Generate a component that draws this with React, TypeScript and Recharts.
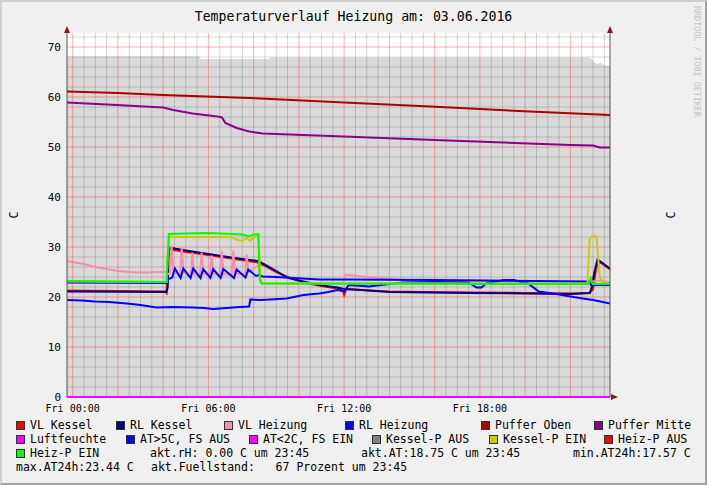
import React from "react";
import { ComposedChart, Line, Area, XAxis, YAxis, CartesianGrid, ReferenceLine } from "recharts";

type Pair = [number, number];

// hours since Fri 00:00 -> value in C
const xTicks = [0, 6, 12, 18];
const yTicks = [0, 10, 20, 30, 40, 50, 60, 70];

const fuellstand: Pair[] = [
  [-0.25, 68.1], [5.6, 68.1], [5.65, 67.6], [8.7, 67.6], [8.75, 67.9], [22.85, 67.9],
  [22.95, 67.5], [23.05, 66.9], [23.2, 66.6], [23.35, 66.9], [23.45, 66.4], [23.75, 66.2],
];

const vlKessel: Pair[] = [
  [-0.25, 21.3], [2, 21.2], [4.1, 21.1], [4.15, 20.8], [4.22, 29.6], [5, 29.0], [6, 28.4],
  [7, 27.7], [8.2, 26.9], [8.6, 26.0], [9.0, 25.0], [9.5, 24.0], [10.2, 22.9], [11.0, 22.2],
  [11.7, 21.7], [11.95, 21.2], [12.0, 20.4], [12.1, 21.6], [12.5, 21.5], [13.1, 21.3], [14, 21.1],
  [15.5, 21.0], [17.6, 20.9], [20, 20.8], [22, 20.7], [22.85, 20.8], [23.0, 21.5], [23.15, 26.0],
  [23.3, 27.0], [23.75, 25.5],
];

const rlKessel: Pair[] = [
  [-0.25, 21.1], [4.15, 21.0], [4.2, 22.0], [4.25, 29.9], [5, 29.3], [6, 28.6], [7, 27.9],
  [8.2, 27.2], [8.6, 26.2], [9.0, 25.2], [9.47, 23.9], [10.2, 23.1], [11, 22.3], [11.7, 21.9],
  [12, 21.6], [13.1, 21.3], [14, 21.0], [17.6, 20.8], [20, 20.7], [22, 20.6], [22.85, 20.8],
  [22.95, 22.0], [23.05, 24.8], [23.2, 27.5], [23.75, 25.7],
];

const vlHeizung: Pair[] = [
  [-0.25, 27.2], [0.5, 26.6], [1, 26.0], [1.5, 25.6], [2, 25.2], [2.5, 25.0], [3.1, 24.9],
  [3.9, 25.0], [4.15, 25.0], [4.22, 24.6], [4.3, 24.7], [4.37, 30.3], [4.45, 24.9],
  [4.75, 24.5], [4.82, 29.9], [4.9, 24.8], [5.22, 24.3], [5.29, 28.9], [5.37, 24.6],
  [5.63, 24.3], [5.7, 28.9], [5.78, 24.6], [6.07, 24.4], [6.14, 28.3], [6.22, 24.6],
  [6.52, 24.4], [6.59, 29.3], [6.67, 24.6], [7.03, 24.4], [7.1, 29.3], [7.18, 24.7],
  [7.62, 24.5], [7.69, 28.5], [7.77, 24.9], [8.2, 26.3], [8.35, 22.7], [11.95, 22.7],
  [12.05, 24.5], [13, 24.0], [14.6, 23.4], [16, 23.2], [20, 23.0], [22.9, 23.0], [23.2, 23.3],
  [23.75, 23.0],
];

const rlHeizung: Pair[] = [
  [-0.25, 22.9], [4.15, 22.8], [4.2, 23.5], [4.4, 23.9], [4.52, 25.7], [4.77, 23.8], [4.89, 25.7],
  [5.21, 23.8], [5.33, 25.7], [5.65, 23.8], [5.77, 25.6], [6.09, 23.8], [6.21, 25.6], [6.54, 23.8],
  [6.66, 25.6], [7.13, 23.8], [7.25, 25.5], [7.64, 23.9], [7.76, 25.5], [8.1, 24.2], [8.25, 24.4],
  [8.4, 24.1], [9, 24.0], [10.9, 23.5], [12, 23.5], [16, 23.4], [22.85, 23.1], [22.9, 22.4],
  [23.75, 22.4],
];

const pufferOben: Pair[] = [
  [-0.25, 61.1], [2, 60.8], [4, 60.4], [8.3, 59.7], [12, 58.9], [15.8, 58.1], [20.2, 57.1],
  [23.75, 56.4],
];

const pufferMitte: Pair[] = [
  [-0.25, 58.9], [1.94, 58.4], [4.0, 57.9], [4.45, 57.4], [5.3, 56.7], [6.4, 56.1], [6.6, 55.9],
  [6.75, 54.8], [7.25, 53.8], [7.8, 53.1], [8.4, 52.7], [11.4, 52.2], [16, 51.4], [22, 50.4],
  [23.0, 50.3], [23.3, 49.9], [23.75, 49.9],
];

const luftfeuchte: Pair[] = [[-0.25, 0], [23.75, 0]];

const aussen: Pair[] = [
  [-0.25, 19.4], [0.4, 19.3], [1, 19.1], [1.6, 19.0], [2.4, 18.7], [3.0, 18.4], [3.7, 17.9],
  [4.4, 18.0], [5.3, 17.9], [5.8, 17.8], [6.2, 17.6], [6.8, 17.8], [7.4, 18.0], [7.8, 18.1],
  [7.85, 19.5], [8.3, 19.4], [8.73, 19.5], [9.46, 19.7], [10.2, 20.4], [10.9, 20.7],
  [11.3, 21.0], [11.7, 21.4], [12.0, 21.1], [12.2, 22.4], [13.1, 22.1], [14.0, 22.6],
  [14.6, 22.9], [16, 23.0], [17.5, 22.9], [17.85, 21.9], [18.07, 21.9], [18.3, 22.8],
  [19.1, 23.4], [19.5, 23.4], [19.9, 22.9], [20.1, 22.8], [20.6, 21.1], [21.5, 20.5],
  [22.4, 19.8], [23.0, 19.4], [23.75, 18.7],
];

const kesselPEin: Pair[] = [
  [-0.25, 23.1], [4.15, 23.0], [4.2, 28.0], [4.28, 32.0], [7.0, 32.0], [7.3, 31.4], [7.5, 31.2],
  [7.7, 31.8], [7.85, 31.2], [8.0, 32.0], [8.22, 32.3], [8.3, 23.0], [8.4, 22.8], [22.75, 22.7],
  [22.85, 31.5], [22.95, 32.1], [23.15, 32.1], [23.3, 24.0], [23.4, 22.9], [23.75, 22.7],
];

const heizPEin: Pair[] = [
  [-0.25, 23.2], [4.15, 23.0], [4.25, 32.6], [5, 32.7], [6, 32.8], [6.5, 32.7], [7, 32.6],
  [7.5, 32.5], [7.8, 32.1], [8.0, 32.5], [8.2, 32.6], [8.27, 23.5], [8.35, 22.7], [22.8, 22.6],
  [22.9, 23.8], [23.0, 22.6], [23.75, 22.6],
];

const lineSeries = [
  { key: "vlKessel", color: "#ff0000", data: vlKessel },
  { key: "rlKessel", color: "#000080", data: rlKessel },
  { key: "vlHeizung", color: "#ff8cb0", data: vlHeizung },
  { key: "rlHeizung", color: "#0000ff", data: rlHeizung },
  { key: "pufferOben", color: "#aa0000", data: pufferOben },
  { key: "pufferMitte", color: "#880088", data: pufferMitte },
  { key: "luftfeuchte", color: "#ff00ff", data: luftfeuchte },
  { key: "aussen", color: "#0000ff", data: aussen },
  { key: "kesselPEin", color: "#cccc00", data: kesselPEin },
  { key: "heizPEin", color: "#00ff00", data: heizPEin },
];

const legendRow1 = [
  { name: "VL Kessel", color: "#ff0000" },
  { name: "RL Kessel", color: "#000080" },
  { name: "VL Heizung", color: "#ff8cb0" },
  { name: "RL Heizung", color: "#0000ff" },
  { name: "Puffer Oben", color: "#aa0000" },
  { name: "Puffer Mitte", color: "#880088" },
];
const legendRow2 = [
  { name: "Luftfeuchte", color: "#ff00ff" },
  { name: "AT>5C, FS AUS", color: "#0000ff" },
  { name: "AT<2C, FS EIN", color: "#ff00ff" },
  { name: "Kessel-P AUS", color: "#808080" },
  { name: "Kessel-P EIN", color: "#cccc00" },
  { name: "Heiz-P AUS", color: "#ff0000" },
];
const legendRow3 = [{ name: "Heiz-P EIN", color: "#00ff00" }];
const infoRow3 = ["akt.rH: 0.00 C um 23:45", "akt.AT:18.75 C um 23:45", "min.AT24h:17.57 C"];
const infoRow4 = ["max.AT24h:23.44 C", "akt.Fuellstand:   67 Prozent um 23:45"];

const row1X = [16, 116, 224, 345, 481, 594];
const row2X = [16, 126, 249, 372, 489, 604];
const info3X = [150, 361, 573];
const info4X = [16, 151];

const FONT = '"DejaVu Sans Mono", monospace';
const toPts = (arr: Pair[]) => arr.map(([t, v]) => ({ t, v }));

// grid: minor every 30 min / 2 C, major every 2 h / 10 C
const minorX = Array.from({ length: 48 }, (_, i) => i * 0.5).filter((v) => v % 2 !== 0);
const minorY = Array.from({ length: 36 }, (_, i) => (i + 1) * 2).filter((v) => v % 10 !== 0);
const majorX = Array.from({ length: 12 }, (_, i) => i * 2);
const majorY = yTicks.filter((v) => v > 0);

const MINOR = "rgba(0,0,0,0.16)";
const MAJOR = "rgba(255,0,0,0.3)";

const LegendItem = ({ x, y, name, color }: { x: number; y: number; name: string; color: string }) => (
  <div style={{ position: "absolute", left: x, top: y - 7, height: 14, display: "flex", alignItems: "center" }}>
    <span style={{ width: 9, height: 9, boxSizing: "border-box", background: color, border: "1px solid #333", marginRight: 5 }} />
    <span style={{ whiteSpace: "pre" }}>{name}</span>
  </div>
);

const InfoText = ({ x, y, text }: { x: number; y: number; text: string }) => (
  <div style={{ position: "absolute", left: x, top: y - 7, height: 14, lineHeight: "14px", whiteSpace: "pre" }}>{text}</div>
);

export default function App() {
  return (
    <div
      style={{
        position: "absolute", left: 0, top: 0, width: 707, height: 485, boxSizing: "border-box",
        background: "#f0f0f0", borderTop: "2px solid #d0d0d0", borderLeft: "2px solid #d0d0d0",
        borderRight: "2px solid #a0a0a0", borderBottom: "2px solid #a0a0a0",
        fontFamily: FONT, fontSize: 11.5, color: "#000", overflow: "hidden",
      }}
    >
      <div style={{ position: "absolute", left: -2, top: -2 }}>
        <ComposedChart width={707} height={485} margin={{ top: 33, right: 0, bottom: 0, left: 0 }}>
          <XAxis
            dataKey="t" type="number" domain={[-0.25, 23.75]} ticks={xTicks} height={88}
            tickFormatter={(t: number) => `Fri ${String(t).padStart(2, "0")}:00`}
            tickLine={false} tickSize={0} tickMargin={8} axisLine={false}
            tick={{ fontFamily: FONT, fontSize: 10, fill: "#000" }}
          />
          <YAxis
            yAxisId="l" type="number" domain={[0, 72.8]} ticks={yTicks} width={67}
            tickLine={false} tickSize={0} tickMargin={6} axisLine={{ stroke: "#555" }}
            tick={{ fontFamily: FONT, fontSize: 11, fill: "#000" }}
          />
          <YAxis
            yAxisId="r" orientation="right" type="number" domain={[0, 72.8]} ticks={yTicks} width={97}
            tickLine={false} tickSize={0} tickMargin={25} axisLine={{ stroke: "#555" }}
            tick={{ fontFamily: FONT, fontSize: 11, fill: "#000", textAnchor: "start" }}
          />
          <CartesianGrid yAxisId="l" horizontal={false} vertical={false} fill="#ffffff" fillOpacity={1} />
          {minorX.map((v) => (
            <ReferenceLine key={`mx${v}`} yAxisId="l" x={v} stroke={MINOR} strokeWidth={1} />
          ))}
          {minorY.map((v) => (
            <ReferenceLine key={`my${v}`} yAxisId="l" y={v} stroke={MINOR} strokeWidth={1} />
          ))}
          {majorX.map((v) => (
            <ReferenceLine key={`Mx${v}`} yAxisId="l" x={v} stroke={MAJOR} strokeWidth={1} />
          ))}
          {majorY.map((v) => (
            <ReferenceLine key={`My${v}`} yAxisId="l" y={v} stroke={MAJOR} strokeWidth={1} />
          ))}
          <Area
            yAxisId="l" data={toPts(fuellstand)} dataKey="v" type="linear"
            fill="#000000" fillOpacity={0.15} stroke="none" isAnimationActive={false}
          />
          {lineSeries.map((s) => (
            <Line
              key={s.key} yAxisId="l" data={toPts(s.data)} dataKey="v" type="linear"
              stroke={s.color} strokeWidth={2} dot={false} activeDot={false}
              isAnimationActive={false}
            />
          ))}
        </ComposedChart>
      </div>

      <svg width={707} height={485} style={{ position: "absolute", left: -2, top: -2, pointerEvents: "none" }}>
        <polygon points="64,33 70,33 67,26" fill="#8b1a1a" />
        <polygon points="607,33 613,33 610,26" fill="#8b1a1a" />
        <polygon points="611,394 611,400 618,397" fill="#8b1a1a" />
      </svg>

      <div style={{ position: "absolute", left: 0, width: 703, top: 7, textAlign: "center", fontSize: 13.2, lineHeight: "16px" }}>
        Temperaturverlauf Heizung am: 03.06.2016
      </div>

      <div style={{ position: "absolute", left: 9, top: 206, transform: "rotate(-90deg)", lineHeight: "14px" }}>C</div>
      <div style={{ position: "absolute", left: 666, top: 206, transform: "rotate(-90deg)", lineHeight: "14px" }}>C</div>

      <div
        style={{
          position: "absolute", left: 690, top: 4, writingMode: "vertical-rl", fontSize: 8.4,
          color: "#c4c4c4", letterSpacing: 0,
        }}
      >
        RRDTOOL / TOBI OETIKER
      </div>

      {legendRow1.map((it, i) => (
        <LegendItem key={it.name} x={row1X[i] - 2} y={423} name={it.name} color={it.color} />
      ))}
      {legendRow2.map((it, i) => (
        <LegendItem key={it.name} x={row2X[i] - 2} y={437} name={it.name} color={it.color} />
      ))}
      {legendRow3.map((it) => (
        <LegendItem key={it.name} x={14} y={451} name={it.name} color={it.color} />
      ))}
      {infoRow3.map((t, i) => (
        <InfoText key={t} x={info3X[i] - 2} y={451} text={t} />
      ))}
      {infoRow4.map((t, i) => (
        <InfoText key={t} x={info4X[i] - 2} y={465} text={t} />
      ))}
    </div>
  );
}
